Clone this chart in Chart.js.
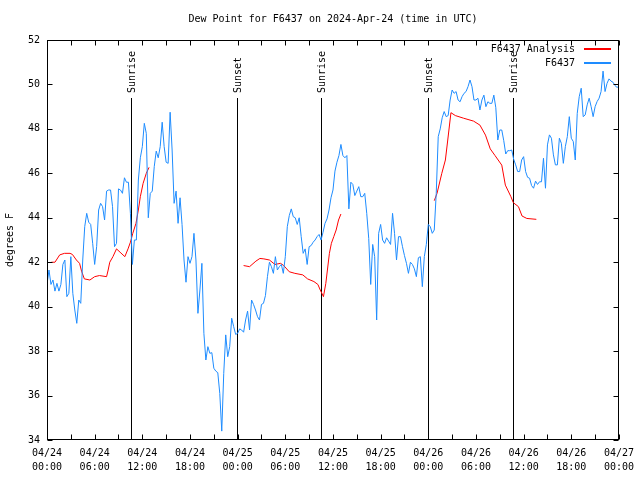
<!DOCTYPE html>
<html>
<head>
<meta charset="utf-8">
<script src="https://cdn.jsdelivr.net/npm/chart.js@4.4.1/dist/chart.umd.min.js"></script>
<style>
html,body{margin:0;padding:0;background:#ffffff;}
#wrap{width:640px;height:480px;}
</style>
</head>
<body>
<div id="wrap"><canvas id="c" width="640" height="480"></canvas></div>
<script>
// ---------- text ----------
const titleText = 'Dew Point for F6437 on 2024-Apr-24 (time in UTC)';
const yAxisLabel = 'degrees F';
const seriesNames = ['F6437 Analysis', 'F6437'];

// ---------- axes ----------
const xMinHour = 0, xMaxHour = 72, xLabelStep = 6, xMinorStep = 3;
const xTickLabels = [
  ['04/24','00:00'],['04/24','06:00'],['04/24','12:00'],['04/24','18:00'],
  ['04/25','00:00'],['04/25','06:00'],['04/25','12:00'],['04/25','18:00'],
  ['04/26','00:00'],['04/26','06:00'],['04/26','12:00'],['04/26','18:00'],
  ['04/27','00:00']
];
const yMin = 34, yMax = 52, yStep = 2;

// ---------- sunrise / sunset (hours since 04/24 00:00 UTC) ----------
const eventHours  = [10.57, 23.86, 34.55, 47.97, 58.62];
const eventLabels = ['Sunrise', 'Sunset', 'Sunrise', 'Sunset', 'Sunrise'];

// ---------- F6437 observations, every 15 minutes from hour 0 ----------
const stationStartHour = 0;
const stationStepHours = 0.25;
const stationDay1 = [
  41.0, 41.65, 41.0, 41.2, 40.7, 41.05, 40.7, 41.0,
  41.9, 42.1, 40.45, 40.6, 42.25, 40.6, 39.85, 39.25,
  40.3, 40.15, 42.1, 43.6, 44.2, 43.8, 43.7, 42.85,
  41.9, 42.7, 44.35, 44.65, 44.5, 43.9, 45.2, 45.25,
  45.25, 44.5, 42.7, 42.85, 45.3, 45.25, 45.1, 45.8,
  45.6, 45.6, 44.2, 41.9, 43.0, 43.0, 45.7, 46.7,
  47.2, 48.25, 47.8, 44.0, 45.1, 45.2, 46.3, 47.0,
  46.7, 47.2, 48.3, 47.2, 46.5, 46.45, 48.75, 47.05,
  44.65, 45.2, 43.75, 44.9, 43.7, 42.1, 41.1, 42.25,
  41.95, 42.25, 43.3, 42.1, 39.7, 40.75, 41.95, 38.8,
  37.6, 38.2, 37.9, 37.93, 37.23, 37.1, 37.03, 36.1,
  34.4, 37.0, 38.73, 37.75, 38.2, 39.48, 39.1, 38.75
];
const stationDay2 = [
  38.8, 39.0, 38.95, 38.85, 39.4, 39.8, 38.95, 40.3,
  40.1, 39.85, 39.55, 39.4, 40.1, 40.15, 40.5, 41.35,
  42.0, 41.8, 41.5, 42.25, 41.65, 41.8, 41.9, 41.5,
  42.25, 43.6, 44.1, 44.4, 44.05, 44.0, 43.7, 44.0,
  43.15, 42.4, 42.6, 41.9, 42.7, 42.75, 42.9, 43.0,
  43.15, 43.25, 43.0, 43.35, 43.75, 43.95, 44.35, 44.9,
  45.25, 46.1, 46.5, 46.8, 47.3, 46.8, 46.7, 46.8,
  44.4, 45.6, 45.5, 45.0, 45.2, 45.4, 44.95, 44.95,
  45.1, 44.2, 43.07, 41.0, 42.8, 42.25, 39.4, 43.3,
  43.7, 43.0, 42.85, 43.1, 42.95, 42.8, 44.2, 43.3,
  42.1, 43.15, 43.15, 42.7, 42.3, 41.95, 41.5, 42.0,
  41.9, 41.7, 41.35, 42.2, 42.25, 40.9, 42.25, 42.8
];
const stationDay3 = [
  43.7, 43.6, 43.3, 43.45, 45.1, 47.65, 48.0, 48.5,
  48.78, 48.55, 48.6, 49.3, 49.75, 49.6, 49.68, 49.3,
  49.22, 49.45, 49.6, 49.68, 49.9, 50.2, 49.9, 49.3,
  49.3, 49.38, 48.85, 49.3, 49.52, 49.0, 49.22, 49.15,
  49.15, 49.52, 48.95, 47.5, 47.95, 47.95, 47.47, 46.87,
  47.02, 47.02, 47.05, 46.63, 46.38, 46.08, 46.08, 46.6,
  46.75, 46.08, 45.82, 45.78, 45.45, 45.33, 45.65, 45.5,
  45.62, 45.62, 46.68, 45.33, 47.28, 47.73, 47.58, 46.83,
  46.38, 46.38, 47.58, 47.35, 46.45, 47.2, 47.65, 48.55,
  47.58, 47.43, 46.6, 48.7, 49.45, 49.83, 48.55, 48.63,
  49.08, 49.38, 49.0, 48.55, 49.0, 49.23, 49.38, 49.68,
  50.6, 49.68, 50.05, 50.25, 50.15, 50.1, 49.95, 49.87,
  49.9
];

// ---------- F6437 Analysis (three separate runs) ----------
const analysisHours1  = [0.55,1.0,1.6,2.2,2.9,3.2,3.7,4.1,4.35,4.7,5.4,6.0,6.6,7.5,7.7,7.9,8.3,8.75,9.2,9.8,10.2,10.5,10.8,11.2,11.5,11.75,12.1,12.5,12.85];
const analysisValues1 = [42.0,42.0,42.33,42.4,42.4,42.35,42.1,41.95,41.6,41.25,41.2,41.35,41.4,41.35,41.65,42.0,42.25,42.6,42.45,42.25,42.6,42.9,43.3,43.75,44.35,44.95,45.55,46.0,46.27];
const analysisHours2  = [24.75,25.5,26.3,26.8,27.3,28.0,28.7,29.4,29.8,30.5,31.2,32.2,32.8,33.6,34.1,34.4,34.8,35.1,35.3,35.55,35.8,36.1,36.4,36.7,37.0];
const analysisValues2 = [41.85,41.8,42.05,42.17,42.15,42.1,41.9,41.95,41.85,41.57,41.5,41.43,41.25,41.13,41.0,40.75,40.45,41.05,41.65,42.4,42.85,43.15,43.45,43.9,44.17];
const analysisHours3  = [48.75,49.1,49.7,50.15,50.45,50.85,51.4,52.45,53.7,54.5,55.2,55.8,56.4,57.25,57.7,58.4,58.7,59.35,59.8,60.4,61.6];
const analysisValues3 = [44.77,45.1,46.0,46.6,47.5,48.73,48.6,48.48,48.35,48.17,47.72,47.1,46.8,46.37,45.47,44.95,44.68,44.5,44.08,43.97,43.93];

// ---------- styles ----------
const FONT = "'DejaVu Sans Mono', 'Liberation Mono', monospace";
const RED = '#ff0000';
const BLUE = '#1e8cff';

// ---------- build points ----------
const stationValues = stationDay1.concat(stationDay2, stationDay3);
const stationPoints = stationValues.map((v, i) => ({x: stationStartHour + i * stationStepHours, y: v}));

function segPoints(h, v) { return h.map((x, i) => ({x: x, y: v[i]})); }
const analysisPoints = [].concat(
  segPoints(analysisHours1, analysisValues1),
  [{x: (analysisHours1[analysisHours1.length-1] + analysisHours2[0]) / 2, y: null}],
  segPoints(analysisHours2, analysisValues2),
  [{x: (analysisHours2[analysisHours2.length-1] + analysisHours3[0]) / 2, y: null}],
  segPoints(analysisHours3, analysisValues3)
);

const decor = {
  id: 'decor',
  beforeDatasetsDraw(chart) {
    const ctx = chart.ctx, ca = chart.chartArea, xs = chart.scales.x;
    ctx.save();
    ctx.fillStyle = '#000';
    ctx.font = '10px ' + FONT;
    eventHours.forEach((h, i) => {
      const px = Math.round(xs.getPixelForValue(h));
      ctx.fillStyle = '#000';
      ctx.fillRect(px, 98, 1, Math.round(ca.bottom) - 98);
      ctx.save();
      ctx.translate(px + 1, 93);
      ctx.rotate(-Math.PI / 2);
      ctx.textAlign = 'left';
      ctx.textBaseline = 'middle';
      ctx.fillText(eventLabels[i], 0, 0);
      ctx.restore();
    });
    ctx.restore();
  },
  afterDatasetsDraw(chart) {
    const ctx = chart.ctx, ca = chart.chartArea, xs = chart.scales.x, ys = chart.scales.y;
    ctx.save();
    ctx.strokeStyle = '#000';
    ctx.lineWidth = 1;
    const L = Math.round(ca.left) + 0.5, R = Math.round(ca.right) - 0.5;
    const T = Math.round(ca.top) + 0.5, B = Math.round(ca.bottom) - 0.5;
    ctx.strokeRect(L, T, R - L, B - T);
    ctx.beginPath();
    for (let h = xMinHour; h <= xMaxHour; h += xMinorStep) {
      const px = Math.round(xs.getPixelForValue(h)) + 0.5;
      const len = 5;
      ctx.moveTo(px, B); ctx.lineTo(px, B - len);
      ctx.moveTo(px, T); ctx.lineTo(px, T + len);
    }
    for (let v = yMin; v <= yMax; v += yStep) {
      const py = Math.round(ys.getPixelForValue(v)) + 0.5;
      ctx.moveTo(L, py); ctx.lineTo(L + 5, py);
      ctx.moveTo(R, py); ctx.lineTo(R - 5, py);
    }
    ctx.stroke();
    ctx.restore();
  },
  afterDraw(chart) {
    const ctx = chart.ctx;
    ctx.save();
    ctx.font = '10px ' + FONT;
    ctx.textAlign = 'right';
    ctx.textBaseline = 'middle';
    const colors = [RED, BLUE];
    const rows = [49, 63];
    for (let i = 0; i < seriesNames.length; i++) {
      ctx.fillStyle = '#000000';
      ctx.fillText(seriesNames[i], 575, rows[i]);
      ctx.fillStyle = colors[i];
      ctx.fillRect(584, rows[i] - 1, 27, 2);
    }
    ctx.restore();
  }
};

Chart.defaults.font.family = FONT;
Chart.defaults.font.size = 10;
Chart.defaults.color = '#000';

new Chart(document.getElementById('c'), {
  type: 'line',
  data: {
    datasets: [
      {
        label: seriesNames[0],
        data: analysisPoints,
        borderColor: RED,
        borderWidth: 1,
        pointRadius: 0,
        tension: 0,
        spanGaps: false,
        order: 1
      },
      {
        label: seriesNames[1],
        data: stationPoints,
        borderColor: BLUE,
        borderWidth: 1,
        pointRadius: 0,
        tension: 0,
        order: 0
      }
    ]
  },
  options: {
    responsive: false,
    animation: false,
    devicePixelRatio: 1,
    layout: { padding: { left: 0, right: 19, top: 0, bottom: 0 } },
    plugins: {
      legend: { display: false },
      tooltip: { enabled: false },
      title: {
        display: true,
        text: titleText,
        fullSize: false,
        color: '#000',
        font: { family: FONT, size: 10, weight: 'normal', lineHeight: 1.2 },
        padding: { top: 13, bottom: 15 }
      }
    },
    scales: {
      x: {
        type: 'linear',
        min: xMinHour,
        max: xMaxHour,
        grid: { display: false, drawTicks: false },
        border: { display: false },
        ticks: {
          stepSize: xLabelStep,
          autoSkip: false,
          maxRotation: 0,
          minRotation: 0,
          padding: 6,
          color: '#000',
          font: { family: FONT, size: 10, lineHeight: 1.4 },
          callback: (v) => xTickLabels[Math.round((v - xMinHour) / xLabelStep)]
        },
        afterFit: (s) => { s.height = 40; }
      },
      y: {
        type: 'linear',
        min: yMin,
        max: yMax,
        grid: { display: false, drawTicks: false },
        border: { display: false },
        ticks: {
          stepSize: yStep,
          padding: 7,
          color: '#000',
          font: { family: FONT, size: 10 }
        },
        title: {
          display: true,
          text: yAxisLabel,
          color: '#000',
          font: { family: FONT, size: 10 },
          padding: { top: 4, bottom: 4 }
        },
        afterFit: (s) => { s.width = 47; }
      }
    }
  },
  plugins: [decor]
});
</script>
</body>
</html>
